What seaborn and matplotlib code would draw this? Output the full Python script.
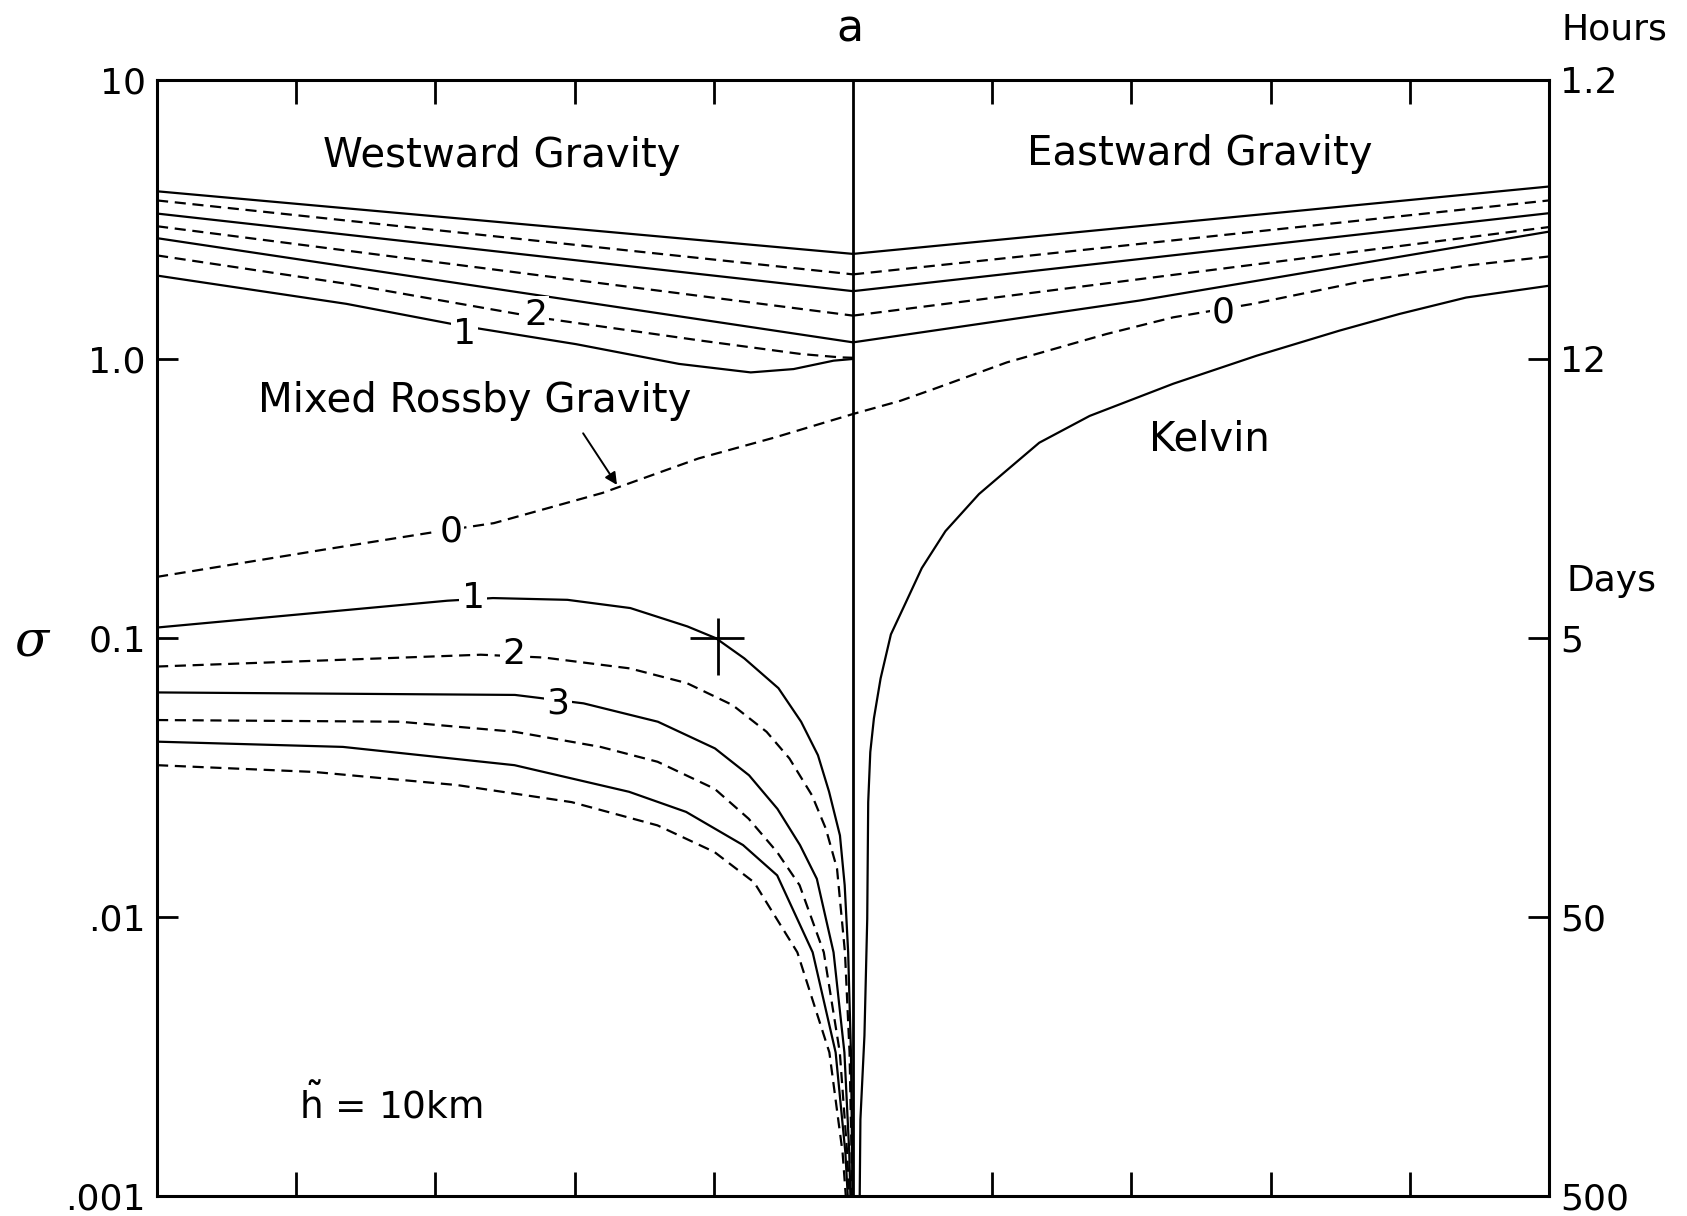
import numpy as np
import pandas as pd
import matplotlib
matplotlib.use("Agg")
import matplotlib.pyplot as plt
import seaborn as sns
from matplotlib.ticker import FixedLocator, FixedFormatter, NullLocator

# ---------------- data (zonal wavenumber k, nondimensional frequency sigma) -------------
# Westward gravity waves (left half)
wg1_k = [-5.0, -3.64, -2.82, -1.99, -1.25, -0.735, -0.427, -0.14, 0.0]
wg1_s = [1.99, 1.576, 1.317, 1.13, 0.96, 0.895, 0.92, 0.986, 1.0]
wg2_k = [-5.0, -3.64, -2.27, -1.09, -0.376, -0.09, 0.0]
wg2_s = [2.35, 1.86, 1.41, 1.163, 1.042, 1.013, 1.01]
wg3_k = [-5.0, 0.0]
wg3_s = [2.71, 1.147]
wg4_k = [-5.0, 0.0]
wg4_s = [2.99, 1.43]
wg5_k = [-5.0, 0.0]
wg5_s = [3.32, 1.75]
wg6_k = [-5.0, 0.0]
wg6_s = [3.70, 2.01]
wg7_k = [-5.0, 0.0]
wg7_s = [3.99, 2.38]

# Eastward gravity waves (right half)
egA_k = [0.0, 5.0]
egA_s = [2.38, 4.15]
egB_k = [0.0, 5.0]
egB_s = [2.01, 3.70]
egC_k = [0.0, 5.0]
egC_s = [1.75, 3.33]
egD_k = [0.0, 5.0]
egD_s = [1.43, 2.97]
egE_k = [0.0, 2.06, 5.0]
egE_s = [1.147, 1.62, 2.86]

# Mixed Rossby-gravity / eastward n=0
mrg_k = [-5.0, -3.81, -3.0, -2.58, -1.80, -1.11, -0.563, 0.0, 0.34, 0.579,
         1.105, 1.822, 2.30, 2.873, 3.686, 4.403, 5.0]
mrg_s = [0.1656, 0.207, 0.240, 0.258, 0.331, 0.440, 0.523, 0.635, 0.708, 0.780,
         0.972, 1.229, 1.41, 1.576, 1.91, 2.16, 2.33]

# Kelvin wave
kel_k = [0.048, 0.053, 0.082, 0.102, 0.109, 0.124, 0.15, 0.198, 0.272, 0.373, 0.494,
         0.664, 0.905, 1.097, 1.338, 1.70, 2.30, 2.899, 3.496, 3.926, 4.404, 5.0]
kel_s = [0.001, 0.00188, 0.00376, 0.00984, 0.0258, 0.039, 0.0515, 0.0716, 0.103, 0.132,
         0.178, 0.2415, 0.328, 0.396, 0.501, 0.625, 0.815, 1.027, 1.264, 1.45, 1.66, 1.83]

# Rossby waves
r1_k = [-5.0, -2.915, -2.587, -2.052, -1.600, -1.190, -0.985, -0.781, -0.536, -0.373,
        -0.252, -0.172, -0.094, -0.060, -0.035, -0.015, -0.0067, -0.0047]
r1_s = [0.109, 0.136, 0.139, 0.137, 0.128, 0.110, 0.0998, 0.0845, 0.0661, 0.0501,
        0.0380, 0.0281, 0.0196, 0.013, 0.00747, 0.00327, 0.00143, 0.001]
r2_k = [-5.0, -2.674, -2.221, -1.604, -1.194, -0.866, -0.621, -0.457, -0.295, -0.195,
        -0.115, -0.058, -0.025, -0.011, -0.0077]
r2_s = [0.079, 0.0871, 0.0851, 0.0778, 0.0689, 0.0575, 0.0461, 0.0370, 0.0273, 0.0207,
        0.0149, 0.00747, 0.00327, 0.00143, 0.001]
r3_k = [-5.0, -2.429, -1.936, -1.402, -0.992, -0.747, -0.543, -0.381, -0.260, -0.14,
        -0.062, -0.027, -0.019]
r3_s = [0.0638, 0.0625, 0.0583, 0.0501, 0.0402, 0.0322, 0.0244, 0.0181, 0.0137, 0.00747,
        0.00327, 0.00143, 0.001]
r4_k = [-5.0, -3.254, -2.430, -1.814, -1.404, -0.994, -0.750, -0.546, -0.384, -0.21,
        -0.095, -0.042, -0.029]
r4_s = [0.0508, 0.0501, 0.0461, 0.0407, 0.0360, 0.0288, 0.0225, 0.0171, 0.0130, 0.00747,
        0.00327, 0.00143, 0.001]
r5_k = [-5.0, -3.665, -2.432, -1.609, -1.199, -0.790, -0.545, -0.29, -0.125, -0.055, -0.038]
r5_s = [0.0425, 0.0407, 0.0350, 0.0281, 0.0238, 0.0181, 0.0141, 0.00747, 0.00327, 0.00143, 0.001]
r6_k = [-5.0, -3.872, -2.844, -2.021, -1.405, -0.996, -0.710, -0.40, -0.17, -0.075, -0.052]
r6_s = [0.0350, 0.0331, 0.0297, 0.0258, 0.0213, 0.0171, 0.0133, 0.00747, 0.00327, 0.00143, 0.001]

# marker cross on the n=1 Rossby curve
cross_k = [-0.968]
cross_s = [0.0998]
cross_kerr = [[0.206], [0.186]]
cross_serr = [[0.026], [0.018]]

# axis ticks
left_ticks = [10, 1.0, 0.1, 0.01, 0.001]
left_labels = ["10", "1.0", "0.1", ".01", ".001"]
right_labels = ["1.2", "12", "5", "50", "500"]
x_ticks = [-4, -3, -2, -1, 1, 2, 3, 4]

# ---------------- build table ----------------
curves = [
    ("wg1", wg1_k, wg1_s, "solid"), ("wg2", wg2_k, wg2_s, "dashed"),
    ("wg3", wg3_k, wg3_s, "solid"), ("wg4", wg4_k, wg4_s, "dashed"),
    ("wg5", wg5_k, wg5_s, "solid"), ("wg6", wg6_k, wg6_s, "dashed"),
    ("wg7", wg7_k, wg7_s, "solid"),
    ("egA", egA_k, egA_s, "solid"), ("egB", egB_k, egB_s, "dashed"),
    ("egC", egC_k, egC_s, "solid"), ("egD", egD_k, egD_s, "dashed"),
    ("egE", egE_k, egE_s, "solid"),
    ("mrg", mrg_k, mrg_s, "dashed"), ("kelvin", kel_k, kel_s, "solid"),
    ("r1", r1_k, r1_s, "solid"), ("r2", r2_k, r2_s, "dashed"),
    ("r3", r3_k, r3_s, "solid"), ("r4", r4_k, r4_s, "dashed"),
    ("r5", r5_k, r5_s, "solid"), ("r6", r6_k, r6_s, "dashed"),
]
rows = []
for name, ks, ss, ls in curves:
    for i, (a, b) in enumerate(zip(ks, ss)):
        rows.append((name, i, a, b, ls))
df = pd.DataFrame(rows, columns=["curve", "order", "k", "sigma", "ls"])

# ---------------- plot ----------------
sns.set_style("ticks")
plt.rcParams["font.family"] = ["DejaVu Sans"]
plt.rcParams["axes.edgecolor"] = "black"
plt.rcParams["text.color"] = "black"
plt.rcParams["xtick.color"] = "black"
plt.rcParams["ytick.color"] = "black"
plt.rcParams["axes.labelcolor"] = "black"
plt.rcParams["mathtext.fontset"] = "dejavusans"

fig = plt.figure(figsize=(16.87, 12.16), dpi=100)
ax = fig.add_axes([0.0931, 0.01645, 0.8251, 0.9178])

sns.lineplot(data=df, x="k", y="sigma", units="curve", style="ls",
             dashes={"solid": "", "dashed": (5, 3)}, estimator=None, sort=False,
             color="black", lw=1.6, legend=False, ax=ax)

ax.set_yscale("log")
ax.set_xlim(-5, 5)
ax.set_ylim(1e-3, 10)
ax.axvline(0, color="black", lw=2.0)

ax.errorbar(cross_k, cross_s, xerr=cross_kerr, yerr=cross_serr, fmt="none",
            ecolor="black", elinewidth=2.0, capsize=0)

for sp in ax.spines.values():
    sp.set_linewidth(2.2)
    sp.set_color("black")

ax.set_xlabel("")
ax.set_ylabel("")
ax.xaxis.set_major_locator(FixedLocator(x_ticks))
ax.xaxis.set_minor_locator(NullLocator())
ax.tick_params(axis="x", which="major", direction="in", top=True, bottom=True,
               length=17, width=2, labelbottom=False, color="black")
ax.yaxis.set_major_locator(FixedLocator(left_ticks))
ax.yaxis.set_major_formatter(FixedFormatter(left_labels))
ax.yaxis.set_minor_locator(NullLocator())
ax.tick_params(axis="y", which="major", direction="in", length=15, width=2,
               labelsize=26, pad=8, right=False, color="black", labelcolor="black")

ax2 = ax.twinx()
ax2.set_yscale("log")
ax2.set_ylim(1e-3, 10)
ax2.yaxis.set_major_locator(FixedLocator(left_ticks))
ax2.yaxis.set_major_formatter(FixedFormatter(right_labels))
ax2.yaxis.set_minor_locator(NullLocator())
ax2.tick_params(axis="y", which="major", direction="in", length=15, width=2,
                labelsize=26, pad=8, color="black", labelcolor="black")
for sp in ax2.spines.values():
    sp.set_visible(False)

# ---------------- annotations ----------------
big = 29
ax.text(-2.52, 5.33, "Westward Gravity", fontsize=big, ha="center", va="center", color="black")
ax.text(2.49, 5.42, "Eastward Gravity", fontsize=big, ha="center", va="center", color="black")
ax.text(-2.72, 0.706, "Mixed Rossby Gravity", fontsize=big, ha="center", va="center", color="black")
ax.text(2.56, 0.516, "Kelvin", fontsize=big, ha="center", va="center", color="black")
ax.text(-3.32, 0.00211, r"$\tilde{\mathregular{h}}$ = 10km", fontsize=27,
        ha="center", va="center", color="black")

lab_kw = dict(fontsize=26, ha="center", va="center", color="black",
              bbox=dict(facecolor="white", edgecolor="none", pad=1.5))
ax.text(-2.79, 1.23, "1", **lab_kw)
ax.text(-2.28, 1.44, "2", **lab_kw)
ax.text(2.66, 1.47, "0", **lab_kw)
ax.text(-2.89, 0.240, "0", **lab_kw)
ax.text(-2.73, 0.139, "1", **lab_kw)
ax.text(-2.44, 0.0873, "2", **lab_kw)
ax.text(-2.12, 0.0583, "3", **lab_kw)

ax.annotate("", xy=(-1.685, 0.347), xytext=(-1.95, 0.552),
            arrowprops=dict(arrowstyle="-|>", color="black", lw=1.4,
                            mutation_scale=18))

fig.text(0.504, 0.976, "a", fontsize=32, ha="center", va="center", color="black")
fig.text(0.957, 0.976, "Hours", fontsize=26, ha="center", va="center", color="black")
fig.text(0.955, 0.522, "Days", fontsize=26, ha="center", va="center", color="black")
fig.text(0.019, 0.472, "σ", fontsize=36, ha="center", va="center", color="black",
         style="italic", family="DejaVu Serif")

fig.savefig("out.png", dpi=100)
